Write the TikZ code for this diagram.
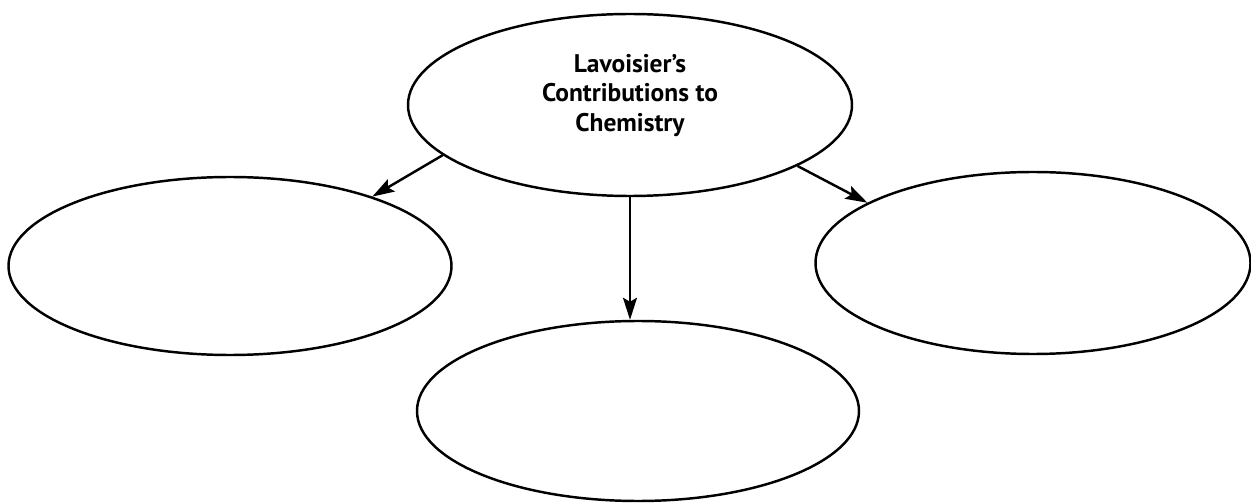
\documentclass[tikz,border=0pt]{standalone}
\usepackage{fontspec}
\setmainfont{PT Sans}
\usetikzlibrary{arrows.meta,shapes.geometric}
\tikzset{
  bubble/.style={draw, ellipse, line width=1.4pt, inner sep=0pt},
  link/.style={line width=1.4pt, -{Stealth[length=4.4mm,width=2.8mm,inset=0.8mm]}}
}

\begin{document}
\begin{tikzpicture}
			%%%%% START %%%%%
			\useasboundingbox (0, 0) rectangle (25.02, 10.04);
			
			\node[bubble, minimum width=8.88cm, minimum height=3.64cm, align=center,
			      font=\bfseries\fontsize{14.5}{16.8}\selectfont] (main) at (12.6, 7.94)
			      {Lavoisier’s\\Contributions to\\Chemistry\\[-3pt]};
			
			\node[bubble, minimum width=8.86cm, minimum height=3.56cm] (left) at (4.6, 4.72) {};
			\node[bubble, minimum width=8.7cm, minimum height=3.64cm] (right) at (20.66, 4.78) {};
			\node[bubble, minimum width=8.84cm, minimum height=3.6cm] (bottom) at (12.76, 1.82) {};
			
			\draw[link] (main.195) -- (left.26);
			\draw[link] (main.south) -- (main.south |- bottom.north);
			\draw[link] (main.340) -- (right.160);
			
			%%%%% END %%%%%
		\end{tikzpicture}
\end{document}
